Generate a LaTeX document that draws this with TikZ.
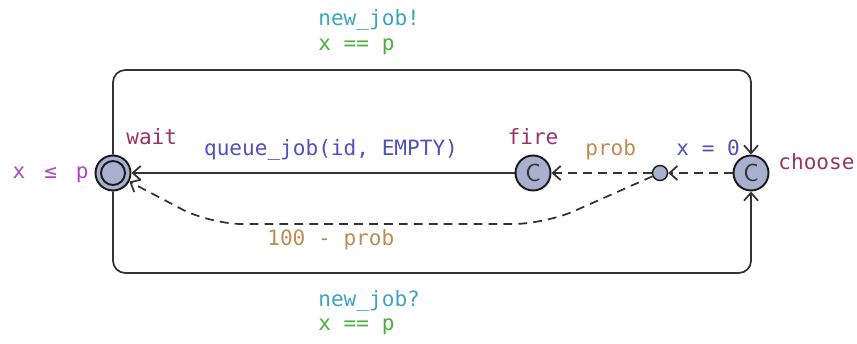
\documentclass[tikz,border=0pt]{standalone}
\usepackage{fontspec}
\setmonofont{DejaVu Sans Mono}
\usepackage{tikz}
\usetikzlibrary{arrows.meta,positioning}
\definecolor{ulocfill}{RGB}{168,176,208}
\definecolor{ulocname}{RGB}{155,50,100}
\definecolor{uinv}{RGB}{175,70,195}
\definecolor{usync}{RGB}{60,165,190}
\definecolor{uguard}{RGB}{75,175,60}
\definecolor{uassign}{RGB}{80,80,190}
\definecolor{uprob}{RGB}{190,140,80}
\begin{document}
\begin{tikzpicture}[x=0.02cm, y=-0.02cm,
  loc/.style={circle, draw=black!90, fill=ulocfill, line width=1.1pt,
              minimum size=0.7cm, inner sep=0pt},
  comm/.style={loc, font=\fontsize{14}{14}\selectfont\sffamily, text=black!80},
  branch/.style={circle, draw=black!90, fill=ulocfill, line width=0.8pt,
                 minimum size=0.3cm, inner sep=0pt},
  lbl/.style={inner sep=0pt, font=\fontsize{12}{14}\selectfont\ttfamily},
  locname/.style={lbl, text=ulocname},
  inv/.style={lbl, text=uinv},
  sync/.style={lbl, text=usync},
  guard/.style={lbl, text=uguard},
  assign/.style={lbl, text=uassign},
  prob/.style={lbl, text=uprob},
  edge/.style={-{Straight Barb[length=4.5pt,width=8pt]}, line width=1pt, black!80},
  dedge/.style={edge, dash pattern=on 5pt off 3.5pt}
]
  \useasboundingbox (0,0) rectangle (857,344);

  \node[loc]    (wait)   at (113,173) {};
  \draw[black!90, line width=1.1pt] (wait.center) circle[radius=0.24cm];
  \node[comm]   (fire)   at (533,173) {C};
  \node[branch] (br)     at (660,173) {};
  \node[comm]   (choose) at (751,173) {C};

  \node[locname, anchor=west] (waitname)   at (126,137) {wait};
  \node[locname]              (firename)   at (533,137) {fire};
  \node[locname, anchor=west] (choosename) at (778,162) {choose};
  \node[inv, anchor=east]     (waitinv)    at (89,175)  {x\hspace{0.9em}≤\hspace{0.9em}p};

  \draw[edge, rounded corners=7pt] (wait) -- (wait |- 0,70) -- (choose |- 0,70) -- (choose);
  \draw[edge, rounded corners=7pt] (wait) -- (wait |- 0,273) -- (choose |- 0,273) -- (choose);
  \draw[edge]  (fire) -- (wait);
  \draw[dedge] (choose) -- (br);
  \draw[dedge] (br) -- (fire);
  \draw[dedge, rounded corners=18pt] (br) -- (545,224) -- (210,224) -- (wait);

  \node[sync, anchor=west]   (sync1)  at (318,20)  {new\_job!};
  \node[guard, anchor=west]  (guard1) at (318,47)  {x == p};
  \node[sync, anchor=west]   (sync2)  at (318,301) {new\_job?};
  \node[guard, anchor=west]  (guard2) at (318,327) {x == p};
  \node[assign]              (upd)    at (331,150) {queue\_job(id, EMPTY)};
  \node[assign, anchor=west] (guard3) at (676,148) {x = 0};
  \node[prob, anchor=west]   (p1)     at (585,150) {prob};
  \node[prob, anchor=west]   (p2)     at (267,240) {100 - prob};
\end{tikzpicture}
\end{document}
